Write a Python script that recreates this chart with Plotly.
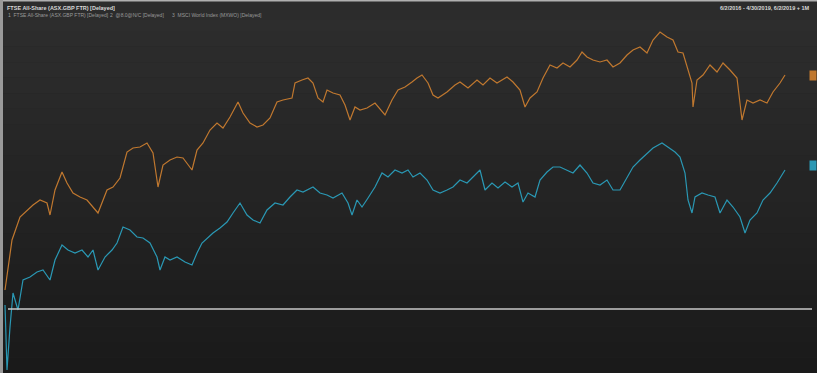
import plotly.graph_objects as go

# ---- data (x = trading-day index, y = % change) ----
ftse_day = [5, 12, 20, 25, 33, 40, 47, 50, 55, 62, 67, 73, 80, 87, 93, 98, 107, 113, 120, 127, 133, 140, 147, 153,
            158, 163, 170, 177, 183, 192, 197, 203, 210, 217, 223, 230, 238, 243, 250, 257, 263, 270, 277, 283,
            292, 295, 302, 308, 313, 318, 323, 327, 333, 340, 345, 350, 355, 360, 367, 375, 385, 392, 398, 405,
            412, 417, 422, 428, 433, 438, 447, 455, 460, 468, 477, 483, 490, 497, 507, 513, 520, 525, 530, 537,
            543, 550, 557, 563, 570, 577, 582, 587, 593, 600, 607, 613, 620, 627, 633, 640, 647, 653, 660, 667,
            673, 678, 683, 688, 692, 693, 697, 703, 710, 717, 723, 730, 737, 742, 747, 753, 760, 767, 773, 780, 785]
ftse_pct = [1.9, 6.9, 9.2, 9.7, 10.4, 10.9, 10.6, 9.4, 11.9, 13.7, 12.6, 11.6, 11.2, 10.9, 10.2, 9.6, 11.9, 12.2,
            13.1, 15.7, 16.1, 16.2, 16.6, 15.6, 12.2, 14.4, 14.9, 15.2, 15.1, 13.9, 15.9, 16.6, 17.9, 18.6, 18.1,
            19.2, 20.7, 19.6, 18.6, 18.2, 18.4, 19.1, 20.7, 20.9, 21.1, 22.6, 22.9, 23.1, 22.6, 21.1, 20.7, 21.9,
            21.6, 21.4, 20.4, 18.9, 20.2, 19.9, 20.1, 20.6, 19.4, 20.9, 21.9, 22.2, 22.7, 23.1, 23.4, 22.6, 21.4,
            21.1, 21.7, 22.4, 22.7, 22.1, 22.9, 22.4, 23.1, 22.6, 23.2, 22.7, 21.9, 20.2, 21.1, 21.7, 23.1, 24.4,
            24.1, 24.6, 24.2, 24.9, 25.7, 25.2, 24.9, 24.7, 24.9, 24.2, 24.6, 25.4, 25.9, 26.2, 25.6, 26.9, 27.7,
            27.2, 26.9, 25.7, 25.6, 23.9, 22.6, 20.2, 22.9, 23.4, 24.4, 23.7, 24.6, 23.9, 23.1, 18.9, 20.9, 20.6,
            20.9, 20.6, 21.7, 22.6, 23.4]

world_day = [5, 7, 10, 13, 18, 23, 30, 37, 43, 50, 55, 62, 68, 75, 82, 88, 93, 98, 105, 112, 117, 123, 130, 137,
             143, 150, 157, 160, 165, 170, 177, 185, 192, 197, 202, 207, 213, 220, 227, 233, 240, 247, 253, 260,
             267, 275, 283, 290, 297, 303, 313, 320, 327, 333, 342, 348, 352, 357, 362, 368, 375, 382, 388, 395,
             402, 408, 413, 420, 427, 433, 440, 447, 453, 460, 467, 473, 480, 485, 492, 498, 505, 512, 518, 523,
             528, 535, 540, 547, 553, 560, 567, 573, 580, 587, 593, 600, 607, 613, 620, 627, 633, 640, 647, 653,
             662, 668, 675, 680, 685, 688, 692, 695, 702, 708, 715, 720, 727, 733, 740, 745, 750, 757, 763, 770,
             777, 785]
world_pct = [0.4, -6.1, -1.8, 1.6, -0.1, 2.9, 3.2, 3.7, 3.9, 2.9, 4.9, 6.4, 5.9, 5.6, 5.9, 5.2, 5.9, 3.9, 5.2, 5.9,
             6.6, 8.2, 7.9, 7.2, 7.1, 6.6, 5.2, 3.9, 5.2, 4.9, 5.2, 4.7, 4.4, 5.6, 6.6, 7.1, 7.6, 8.1, 8.7, 9.6,
             10.6, 9.4, 8.9, 8.6, 9.9, 10.6, 10.4, 11.2, 11.9, 11.7, 12.2, 11.6, 11.4, 11.1, 11.6, 10.6, 9.4, 10.9,
             10.2, 11.1, 12.2, 13.6, 13.2, 13.9, 13.6, 13.9, 13.2, 13.6, 12.9, 11.9, 11.6, 11.9, 12.2, 12.9, 12.6,
             13.2, 13.9, 11.9, 12.6, 12.1, 12.7, 12.2, 12.6, 10.7, 11.6, 11.2, 12.9, 13.7, 14.2, 14.2, 13.9, 13.6,
             14.4, 13.6, 12.6, 12.4, 12.9, 11.9, 11.9, 13.2, 14.2, 14.9, 15.6, 16.1, 16.6, 16.2, 15.7, 15.2, 13.6,
             10.9, 9.6, 11.2, 11.6, 11.4, 11.2, 9.6, 10.9, 10.2, 9.2, 7.6, 8.9, 9.6, 10.9, 11.6, 12.6, 13.9]

title_text = "FTSE All-Share (ASX.GBP FTR) [Delayed]"
legend_items = ["1  FTSE All-Share (ASX.GBP FTR) [Delayed]", "2  @8.0@N/C [Delayed]",
                "3  MSCI World Index (MXWO) [Delayed]"]
date_text = "6/2/2016 - 4/30/2019, 6/2/2019 + 1M"

ORANGE = "#c0782f"
CYAN = "#2a98b4"

fig = go.Figure()
fig.add_trace(go.Scatter(x=ftse_day, y=ftse_pct, mode="lines", line=dict(color=ORANGE, width=1.2),
                         name="FTSE All-Share", showlegend=False))
fig.add_trace(go.Scatter(x=world_day, y=world_pct, mode="lines", line=dict(color=CYAN, width=1.2),
                         name="MSCI World", showlegend=False))

# background gradient (top lighter, bottom darker)
shapes = []
n = 24
top = (46, 46, 46)
bot = (26, 26, 26)
for i in range(n):
    t = i / (n - 1)
    c = tuple(int(round(top[k] + (bot[k] - top[k]) * t)) for k in range(3))
    shapes.append(dict(type="rect", xref="paper", yref="paper", x0=0, x1=1,
                       y0=1 - (i + 1) / n, y1=1 - i / n, fillcolor="rgb(%d,%d,%d)" % c,
                       line=dict(width=0), layer="below"))
# header bar
shapes.append(dict(type="rect", xref="paper", yref="paper", x0=0, x1=1, y0=1 - 20 / 373, y1=1,
                   fillcolor="#2c2c2c", line=dict(width=0), layer="below"))
shapes.append(dict(type="rect", xref="paper", yref="paper", x0=0, x1=1, y0=1 - 1.5 / 373, y1=1,
                   fillcolor="#b0b0b0", line=dict(width=0), layer="below"))
# left edge strip
shapes.append(dict(type="rect", xref="paper", yref="paper", x0=0, x1=3 / 817, y0=0, y1=1,
                   fillcolor="#9a9a9a", line=dict(width=0), layer="below"))
# zero line
shapes.append(dict(type="line", xref="paper", yref="y", x0=8 / 817, x1=812 / 817, y0=0, y1=0,
                   line=dict(color="#c8c8c8", width=1.3)))

annotations = [
    dict(text="<b>" + title_text + "</b>", x=5 / 817, y=1 - 3 / 373, xref="paper", yref="paper",
         showarrow=False, font=dict(size=5.5, color="#d8d8d8", family="Liberation Sans"),
         xanchor="left", yanchor="top"),
    dict(text="<b>" + date_text + "</b>", x=812 / 817, y=1 - 3 / 373, xref="paper", yref="paper",
         showarrow=False, font=dict(size=5.5, color="#d8d8d8", family="Liberation Sans"),
         xanchor="right", yanchor="top"),
]
leg_x = [6, 108, 170]
for txt, lx in zip(legend_items, leg_x):
    annotations.append(dict(text=txt, x=lx / 817, y=1 - 10 / 373, xref="paper", yref="paper", showarrow=False,
                            font=dict(size=5, color="#9a9a9a", family="Liberation Sans"),
                            xanchor="left", yanchor="top"))
# last-value tags at right edge
annotations.append(dict(text=" ", x=1, y=ftse_pct[-1], xref="paper", yref="y", showarrow=False,
                        bgcolor=ORANGE, xanchor="right", font=dict(size=5), width=4, height=7))
annotations.append(dict(text=" ", x=1, y=world_pct[-1] + 0.5, xref="paper", yref="y", showarrow=False,
                        bgcolor=CYAN, xanchor="right", font=dict(size=5), width=4, height=7))

fig.update_layout(
    width=817, height=373,
    margin=dict(l=0, r=0, t=0, b=0),
    paper_bgcolor="#242424", plot_bgcolor="rgba(0,0,0,0)",
    shapes=shapes, annotations=annotations,
    xaxis=dict(range=[0, 817], visible=False, fixedrange=True),
    yaxis=dict(range=[-6.4, 30.9], visible=False, fixedrange=True),
    showlegend=False,
)

fig.write_html("out.html", config={"displayModeBar": False},
               post_script="document.body.style.margin='0px';document.body.style.overflow='hidden';")
